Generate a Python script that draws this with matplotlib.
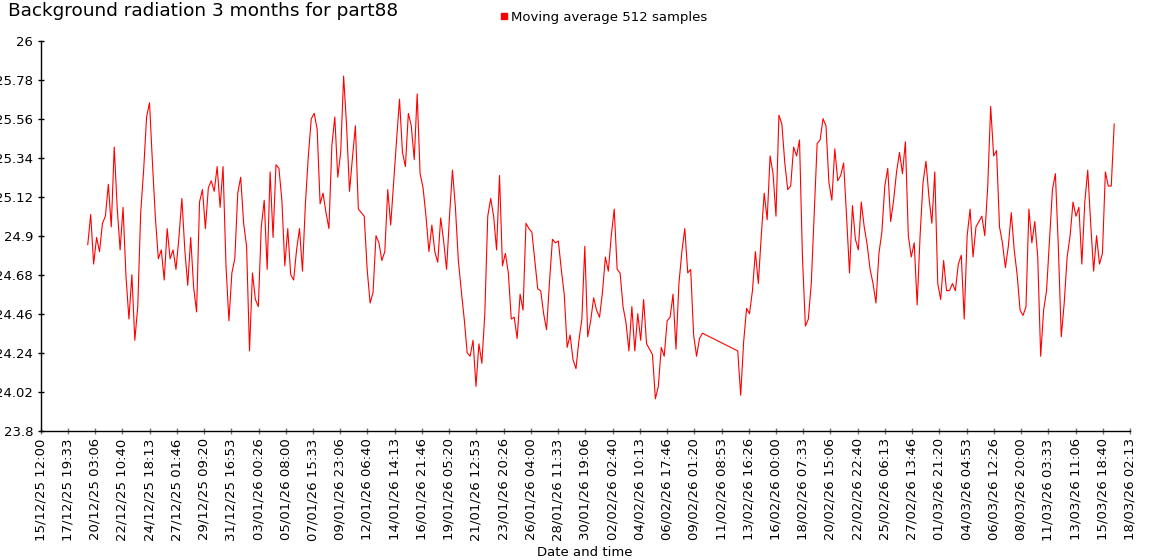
import matplotlib as mpl
mpl.use("Agg")
import numpy as np
import pandas as pd
import matplotlib.pyplot as plt
import matplotlib.dates as mdates
from matplotlib.lines import Line2D

# moving average readings, one every 6 hours
# first run, ends before the outage around 10/02
seg1_start = "2025-12-19 12:00"
seg1_values = [
    24.85, 25.02, 24.74, 24.89, 24.81, 24.97, 25.01, 25.19, 24.95, 25.40,
    25.06, 24.82, 25.06, 24.67, 24.43, 24.68, 24.31, 24.50, 25.03, 25.27,
    25.57, 25.65, 25.31, 25.00, 24.77, 24.82, 24.65, 24.94, 24.77, 24.82,
    24.71, 24.89, 25.11, 24.82, 24.62, 24.89, 24.61, 24.47, 25.09, 25.16,
    24.94, 25.17, 25.21, 25.15, 25.29, 25.06, 25.29, 24.73, 24.42, 24.69,
    24.77, 25.14, 25.23, 24.97, 24.84, 24.25, 24.69, 24.54, 24.50, 24.95,
    25.10, 24.71, 25.26, 24.89, 25.30, 25.28, 25.10, 24.73, 24.94, 24.68,
    24.65, 24.82, 24.94, 24.70, 25.08, 25.35, 25.56, 25.59, 25.50, 25.08,
    25.14, 25.03, 24.94, 25.41, 25.57, 25.23, 25.37, 25.80, 25.52, 25.15,
    25.34, 25.52, 25.05, 25.03, 25.01, 24.71, 24.52, 24.58, 24.90, 24.86,
    24.76, 24.81, 25.16, 24.96, 25.20, 25.44, 25.67, 25.37, 25.29, 25.59,
    25.52, 25.33, 25.70, 25.25, 25.17, 25.01, 24.81, 24.96, 24.81, 24.75,
    25.00, 24.87, 24.71, 25.01, 25.27, 25.06, 24.76, 24.59, 24.43, 24.24,
    24.22, 24.31, 24.05, 24.29, 24.18, 24.46, 25.01, 25.11, 25.01, 24.82,
    25.24, 24.73, 24.80, 24.69, 24.43, 24.44, 24.32, 24.57, 24.48, 24.97,
    24.94, 24.92, 24.76, 24.60, 24.59, 24.46, 24.37, 24.64, 24.88, 24.86,
    24.87, 24.71, 24.57, 24.27, 24.34, 24.20, 24.15, 24.31, 24.43, 24.84,
    24.33, 24.42, 24.55, 24.48, 24.44, 24.58, 24.78, 24.70, 24.90, 25.05,
    24.71, 24.69, 24.50, 24.41, 24.25, 24.50, 24.25, 24.46, 24.31, 24.54,
    24.29, 24.26, 24.23, 23.98, 24.05, 24.27, 24.22, 24.42, 24.44, 24.57,
    24.26, 24.63, 24.81, 24.94, 24.69, 24.71, 24.34, 24.22, 24.32, 24.35,
]

# second run, after the outage
seg2_start = "2026-02-12 18:00"
seg2_values = [
    24.25, 24.00, 24.30, 24.49, 24.46, 24.59, 24.81, 24.63, 24.90, 25.14,
    24.99, 25.35, 25.25, 25.01, 25.58, 25.53, 25.31, 25.16, 25.18, 25.40,
    25.35, 25.44, 24.78, 24.39, 24.43, 24.63, 25.03, 25.42, 25.44, 25.56,
    25.52, 25.20, 25.10, 25.39, 25.21, 25.24, 25.31, 25.01, 24.69, 25.07,
    24.88, 24.82, 25.09, 24.95, 24.85, 24.71, 24.63, 24.52, 24.80, 24.92,
    25.18, 25.28, 24.98, 25.10, 25.26, 25.37, 25.25, 25.43, 24.90, 24.78,
    24.86, 24.51, 24.90, 25.20, 25.32, 25.12, 24.97, 25.26, 24.63, 24.54,
    24.76, 24.59, 24.59, 24.63, 24.59, 24.74, 24.79, 24.43, 24.90, 25.05,
    24.78, 24.95, 24.98, 25.01, 24.90, 25.18, 25.63, 25.35, 25.38, 24.95,
    24.86, 24.72, 24.84, 25.03, 24.82, 24.68, 24.48, 24.45, 24.50, 25.05,
    24.86, 24.98, 24.78, 24.22, 24.48, 24.59, 24.88, 25.16, 25.25, 24.84,
    24.33, 24.52, 24.78, 24.90, 25.09, 25.01, 25.06, 24.74, 25.09, 25.27,
    24.97, 24.70, 24.90, 24.74, 24.80, 25.26, 25.18, 25.18, 25.53,
]

x_start = pd.Timestamp("2025-12-15 12:00:00")
x_end = pd.Timestamp("2026-03-18 02:13:20")
n_xticks = 41
y_min, y_max, y_step = 23.8, 26.0, 0.22

t1 = pd.date_range(seg1_start, periods=len(seg1_values), freq="6h")
t2 = pd.date_range(seg2_start, periods=len(seg2_values), freq="6h")
times = list(t1) + list(t2)
values = seg1_values + seg2_values

fig = plt.figure(figsize=(11.5, 5.6), dpi=100)
ax = fig.add_axes([40.7 / 1150, 129.3 / 560, 1089.3 / 1150, 390 / 560])

ax.plot(times, values, color="#ff0000", lw=0.8)

ax.set_xlim(x_start, x_end)
ax.set_ylim(y_min, y_max)

xt = pd.to_datetime(np.linspace(x_start.value, x_end.value, n_xticks))
ax.set_xticks(xt)
ax.set_xticklabels([t.strftime("%d/%m/%y %H:%M") for t in xt], rotation=90, fontsize=9.5)

yt = np.round(np.arange(y_min, y_max + 0.001, y_step), 2)
ax.set_yticks(yt)
ax.set_yticklabels(["%g" % v for v in yt], fontsize=9.5)

for s in ["top", "right"]:
    ax.spines[s].set_visible(False)
for s in ["left", "bottom"]:
    ax.spines[s].set_linewidth(1.0)
ax.tick_params(axis="both", direction="inout", length=5, width=1, pad=3)
ax.tick_params(axis="x", color="#777777")

fig.text(8 / 1150, 1 - 2 / 560, "Background radiation 3 months for part88",
         fontsize=13.3, va="top", ha="left")
fig.text(585 / 1150, 1 / 560, "Date and time", fontsize=9.5, ha="center", va="bottom")

handle = Line2D([], [], color="#ff0000", marker="s", ls="none", markersize=4.5)
fig.legend([handle], ["Moving average 512 samples"], loc="center",
           bbox_to_anchor=(603 / 1150, 1 - 17 / 560), frameon=False,
           fontsize=9.5, handletextpad=0.1, handlelength=0.8)

plt.savefig("out.png", dpi=100)
